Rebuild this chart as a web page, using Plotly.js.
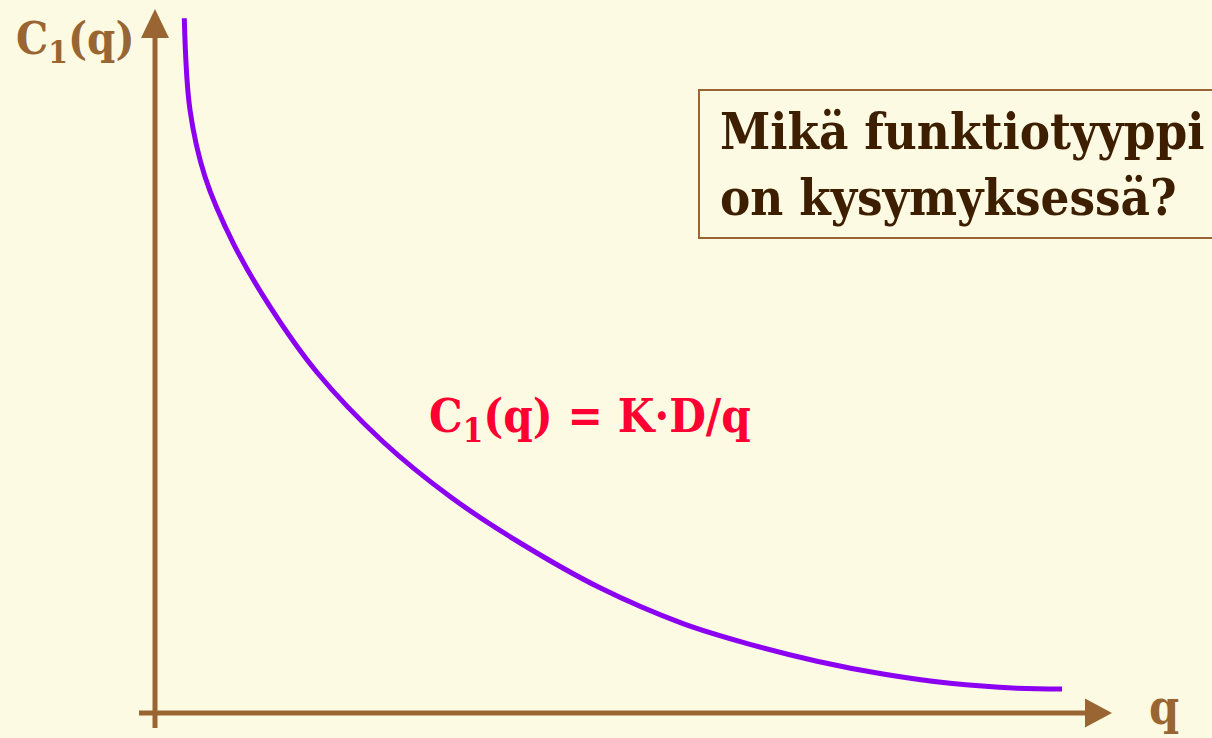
<!DOCTYPE html>
<html><head><meta charset="utf-8">
<script src="https://cdn.plot.ly/plotly-3.0.1.min.js"></script>
<style>html,body{margin:0;padding:0;background:#FCFAE3;}#chart{width:1212px;height:738px;}</style>
</head><body><div id="chart"></div>
<script>
// Curve (q, C1(q)) in arbitrary units
const qValues = [0.293, 0.35, 0.50, 0.783, 1.15, 1.617, 2.283, 2.95, 3.62, 4.45, 5.28, 5.95, 6.62, 7.28, 7.95, 8.62, 9.07];
const cValues = [6.947, 6.03, 5.363, 4.697, 4.063, 3.41, 2.71, 2.165, 1.72, 1.252, 0.894, 0.687, 0.518, 0.39, 0.297, 0.248, 0.24];
const yAxisLabel = 'C<sub>1</sub>(q)';
const xAxisLabel = 'q';
const curveLabel = 'C<sub>1</sub>(q) = K·D/q';
const questionText = 'Mikä funktiotyyppi<br>on kysymyksessä?';

const brown = '#996633';
const serif = 'DejaVu Serif Condensed, DejaVu Serif, Liberation Serif, serif';

const trace = {
  x: qValues, y: cValues, type: 'scatter', mode: 'lines',
  line: {color: '#8B00F0', width: 5, shape: 'spline', smoothing: 1.0, simplify: false},
  hoverinfo: 'skip'
};

const layout = {
  width: 1212, height: 738,
  margin: {l: 0, r: 0, t: 0, b: 0},
  paper_bgcolor: '#FCFAE3', plot_bgcolor: '#FCFAE3',
  showlegend: false,
  xaxis: {range: [-1.55, 10.57], visible: false, fixedrange: true},
  yaxis: {range: [-0.25, 7.13], visible: false, fixedrange: true},
  shapes: [
    {type: 'line', x0: 0, x1: 0, y0: -0.15, y1: 6.78, line: {color: brown, width: 5}},
    {type: 'path', path: 'M -0.14 6.75 L 0 7.04 L 0.14 6.75 Z', fillcolor: brown, line: {width: 0}},
    {type: 'line', x0: -0.16, x1: 9.33, y0: 0, y1: 0, line: {color: brown, width: 5}},
    {type: 'path', path: 'M 9.30 0.145 L 9.57 0 L 9.30 -0.145 Z', fillcolor: brown, line: {width: 0}},
    {type: 'rect', xref: 'paper', yref: 'paper', x0: 699/1212, x1: 1.02, y0: 1 - 238/738, y1: 1 - 90/738,
     line: {color: brown, width: 2}, fillcolor: 'rgba(0,0,0,0)'}
  ],
  annotations: [
    {xref: 'paper', yref: 'paper', x: 14/1212, y: 1 - 41/738, xanchor: 'left', yanchor: 'middle',
     text: '<b>' + yAxisLabel + '</b>', showarrow: false, font: {family: serif, size: 45, color: brown}},
    {xref: 'paper', yref: 'paper', x: 1164/1212, y: 1 - 707/738, xanchor: 'center', yanchor: 'middle',
     text: '<b>' + xAxisLabel + '</b>', showarrow: false, font: {family: serif, size: 48, color: brown}},
    {xref: 'paper', yref: 'paper', x: 427/1212, y: 1 - 419/738, xanchor: 'left', yanchor: 'middle',
     text: '<b>' + curveLabel + '</b>', showarrow: false, font: {family: serif, size: 47, color: '#FF0033'}},
    {xref: 'paper', yref: 'paper', x: 718/1212, y: 1 - 164/738, xanchor: 'left', yanchor: 'middle', align: 'left',
     text: '<b>' + questionText + '</b>', showarrow: false, font: {family: serif, size: 50.5, color: '#3D1F00'}}
  ]
};

Plotly.newPlot('chart', [trace], layout, {staticPlot: true, displayModeBar: false});
</script>
</body></html>
